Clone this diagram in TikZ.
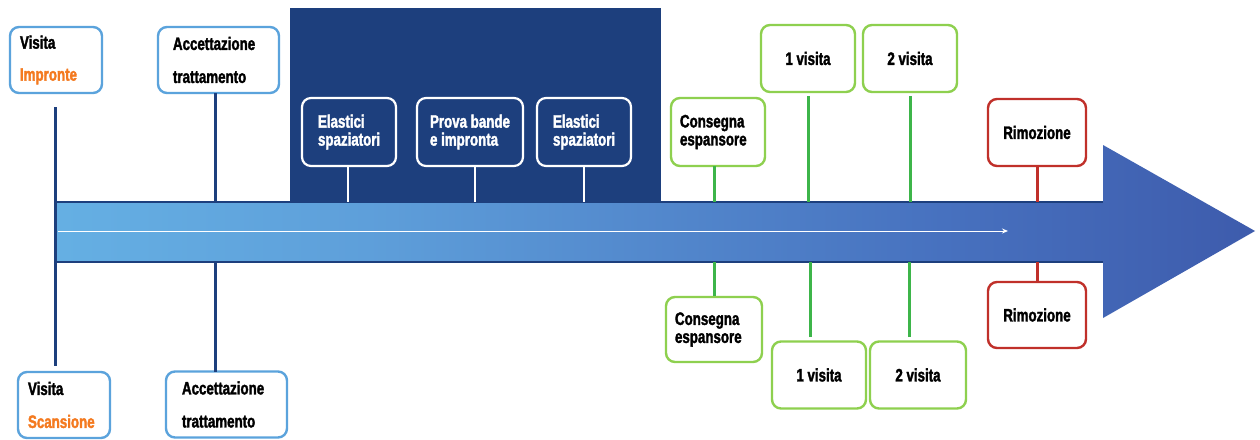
\documentclass[tikz,border=0pt]{standalone}
\usepackage{fontspec}
\newfontfamily\cf{Liberation Sans}[FakeStretch=0.74,FakeBold=1.8]
\usetikzlibrary{arrows.meta}
\definecolor{navy}{HTML}{1D3F7D}
\definecolor{lblue}{HTML}{5BA3DC}
\definecolor{orng}{HTML}{F47A20}
\definecolor{gbox}{HTML}{8ED04F}
\definecolor{gline}{HTML}{3DB54A}
\definecolor{rbox}{HTML}{C0302A}
\definecolor{barA}{HTML}{72CFF5}
\definecolor{barB}{HTML}{5E9FDA}
\definecolor{barC}{HTML}{4771BF}
\definecolor{barD}{HTML}{3A53A5}
\pgfdeclarehorizontalshading{barshade}{100bp}{color(0bp)=(barA); color(38bp)=(barB); color(62bp)=(barC); color(80bp)=(barD); color(100bp)=(barD)}
\tikzset{
  txt/.style={font=\cf\bfseries\fontsize{18}{18}\selectfont},
  bbox/.style={txt, draw=lblue, rounded corners=9pt, line width=2.4pt, fill=white, align=left, minimum height=66pt},
  nbox/.style={txt, text=white, draw=white, rounded corners=9pt, line width=2.2pt, fill=navy, align=left, minimum height=68pt},
  gbx/.style={txt, draw=gbox, rounded corners=9pt, line width=2.4pt, fill=white, minimum height=67pt},
  rbx/.style={txt, draw=rbox, rounded corners=9pt, line width=2.4pt, fill=white, minimum height=67pt},
  bl/.style={navy, line width=3pt},
  wl/.style={white, line width=2.2pt},
  gl/.style={gline, line width=3pt},
  rl/.style={rbox, line width=3pt},
}
\begin{document}
\begin{tikzpicture}[x=1pt,y=-1pt]
\useasboundingbox (0,0) rectangle (1260,439);
\fill[white] (0,0) rectangle (1260,439);
% navy panel
\fill[navy] (290,8) rectangle (661,202);
% arrow
\shade[shading=barshade] (55,202) -- (1103,202) -- (1103,145) -- (1255,231) -- (1103,318) -- (1103,262) -- (55,262) -- cycle;
\coordinate (sl) at (55,202);
\coordinate (sr) at (1103,202);
\coordinate (bl) at (55,262);
\coordinate (br) at (1103,262);
\draw[navy, line width=2pt] (sl) -- (sr);
\draw[navy, line width=2pt] (bl) -- (br);
\coordinate (wa) at (58,231);
\coordinate (wb) at (1008,231);
\draw[white, line width=1pt, -{Stealth[length=6pt,width=5pt]}] (wa) -- (wb);
\coordinate (bartop) at (0,202);
\coordinate (barbot) at (0,262);
% left blue boxes
\node[bbox, inner xsep=10pt, text width=72pt] (v1) at (56,60) {Visita\\[14pt]\textcolor{orng}{Impronte}};
\node[bbox, inner xsep=15pt, text width=91pt] (a1) at (218.5,60) {Accettazione\\[15pt]trattamento};
\node[bbox, inner xsep=10pt, text width=72pt] (v2) at (64,405) {Visita\\[15pt]\textcolor{orng}{Scansione}};
\node[bbox, inner xsep=16pt, text width=89pt] (a2) at (226.5,404.5) {Accettazione\\[15pt]trattamento};
\coordinate (vtop) at (55,107);
\coordinate (vbot) at (55,366);
\draw[bl] (vtop) -- (vbot);
\coordinate (a1l) at (215,93);
\coordinate (a2l) at (215,372);
\draw[bl] (a1l) -- (a1l |- bartop);
\draw[bl] (a2l) -- (a2l |- barbot);
% navy boxes
\node[nbox, inner xsep=16pt, text width=62pt] (e1) at (349,132) {Elastici\\spaziatori};
\node[nbox, minimum width=106pt] (pb) at (470,132) {Prova bande\\e impronta};
\node[nbox, inner xsep=16pt, text width=62pt] (e2) at (584,132) {Elastici\\spaziatori};
\coordinate (e1l) at (348,166);
\coordinate (pbl) at (475,166);
\draw[wl] (e1l) -- (e1l |- bartop);
\draw[wl] (pbl) -- (pbl |- bartop);
\draw[wl] (e2.south) -- (e2.south |- bartop);
% green boxes top
\node[gbx, align=left, inner xsep=9pt, text width=76pt, minimum height=68pt] (c1) at (718,132) {Consegna\\espansore};
\node[gbx, minimum width=94pt] (g1) at (808,58.5) {1 visita};
\node[gbx, minimum width=94pt] (g2) at (910,58.5) {2 visita};
\node[rbx, minimum width=98pt] (r1) at (1037,132.5) {Rimozione};
\coordinate (c1l) at (714,166);
\draw[gl] (c1l) -- (c1l |- bartop);
\draw[gl, shorten <=3pt] (g1.south) -- (g1.south |- bartop);
\draw[gl, shorten <=3pt] (g2.south) -- (g2.south |- bartop);
\draw[rl] (r1.south) -- (r1.south |- bartop);
% green boxes bottom
\node[gbx, align=left, inner xsep=9pt, text width=78pt, minimum height=65pt] (c2) at (714,329.5) {Consegna\\espansore};
\node[gbx, minimum width=94pt] (g3) at (819,375) {1 visita};
\node[gbx, minimum width=96pt] (g4) at (918,375) {2 visita};
\node[rbx, minimum width=98pt, minimum height=66pt] (r2) at (1037,315) {Rimozione};
\draw[gl] (c2.north) -- (c2.north |- barbot);
\coordinate (g3l) at (810,337);
\coordinate (g4l) at (909,337);
\draw[gl] (g3l) -- (g3l |- barbot);
\draw[gl] (g4l) -- (g4l |- barbot);
\draw[rl] (r2.north) -- (r2.north |- barbot);
\end{tikzpicture}
\end{document}
